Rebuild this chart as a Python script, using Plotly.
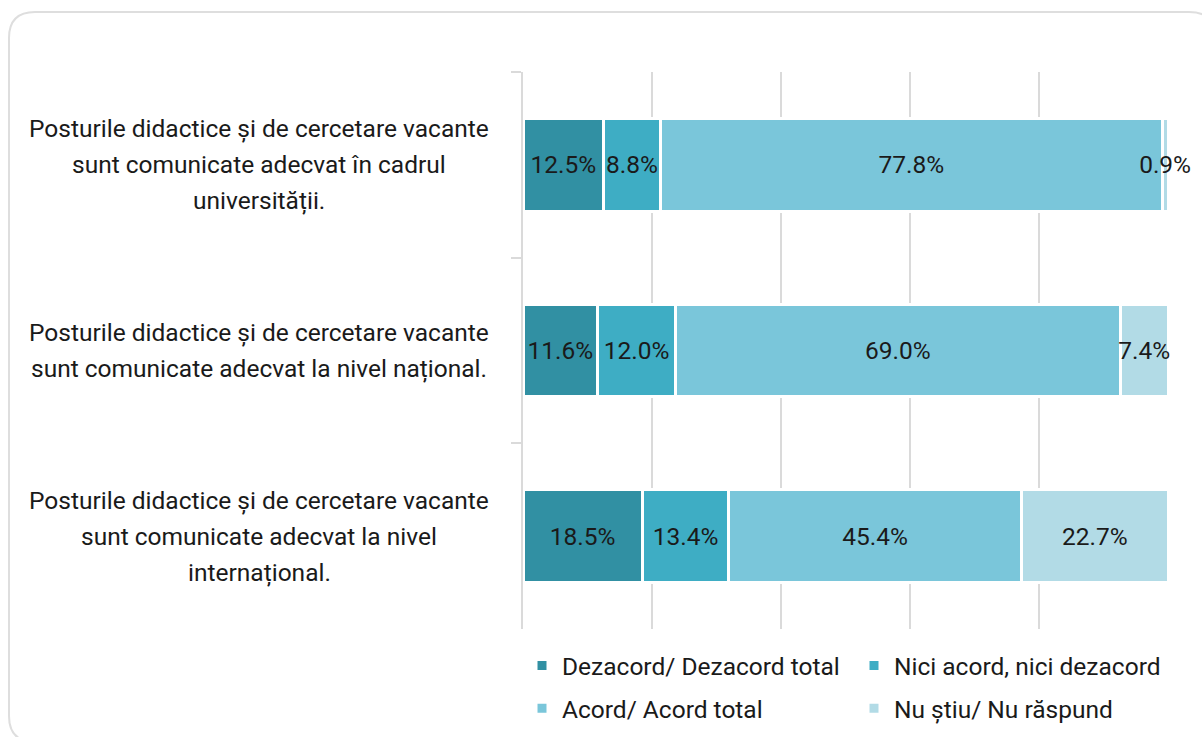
import plotly.graph_objects as go

# survey statements (top to bottom)
categories = [
    "Posturile didactice și de cercetare vacante<br>sunt comunicate adecvat în cadrul<br>universității.",
    "Posturile didactice și de cercetare vacante<br>sunt comunicate adecvat la nivel național.",
    "Posturile didactice și de cercetare vacante<br>sunt comunicate adecvat la nivel<br>internațional.",
]

dezacord = [12.5, 11.6, 18.5]
nici = [8.8, 12.0, 13.4]
acord = [77.8, 69.0, 45.4]
nu_stiu = [0.9, 7.4, 22.7]

series_names = ["Dezacord/ Dezacord total", "Nici acord, nici dezacord",
                "Acord/ Acord total", "Nu știu/ Nu răspund"]
series_values = [dezacord, nici, acord, nu_stiu]
colors = ["#3190a3", "#3eadc4", "#7ac6da", "#b2dbe6"]
legend_ids = ["legend", "legend2", "legend", "legend2"]

W, H = 1202, 737
ML, MR, MT, MB = 523, 34, 72, 108
FONT = "Roboto"
FS = 24.5


def px_x(px):
    return (px - ML) / (W - ML - MR)


def px_y(py):
    return (H - MB - py) / (H - MT - MB)


fig = go.Figure()
for name, vals, col, lg in zip(series_names, series_values, colors, legend_ids):
    fig.add_trace(go.Bar(
        x=vals, y=categories, name=name, orientation="h",
        marker=dict(color=col, line=dict(color="white", width=3)),
        texttemplate="%{x:.1f}%", textposition="inside", textangle=0,
        insidetextanchor="middle", constraintext="none",
        textfont=dict(family=FONT, size=FS, color="#1a1a1a"),
        cliponaxis=False, legend=lg, legendgroup=name,
    ))

# centered category labels, one annotation per line
line_h = 36
for cat in categories:
    lines = cat.split("<br>")
    n = len(lines)
    for i, ln in enumerate(lines):
        fig.add_annotation(
            x=px_x(259), xref="paper", y=cat, yref="y",
            text=ln, showarrow=False, xanchor="center", yanchor="middle",
            yshift=((n - 1) / 2 - i) * line_h,
            font=dict(family=FONT, size=FS, color="#1a1a1a"),
        )

# rounded frame around the chart
l, t, r, b, rad = 9, 12, 1215, 742, 26
path = (f"M {px_x(l)},{px_y(t + rad)} Q {px_x(l)},{px_y(t)} {px_x(l + rad)},{px_y(t)} "
        f"L {px_x(r - rad)},{px_y(t)} Q {px_x(r)},{px_y(t)} {px_x(r)},{px_y(t + rad)} "
        f"L {px_x(r)},{px_y(b - rad)} Q {px_x(r)},{px_y(b)} {px_x(r - rad)},{px_y(b)} "
        f"L {px_x(l + rad)},{px_y(b)} Q {px_x(l)},{px_y(b)} {px_x(l)},{px_y(b - rad)} Z")
fig.add_shape(type="path", path=path, xref="paper", yref="paper",
              line=dict(color="#dedede", width=2), layer="below")

legend_style = dict(orientation="v", yanchor="top", y=px_y(643), xanchor="left",
                    font=dict(family=FONT, size=FS, color="#1a1a1a"),
                    tracegroupgap=8, bgcolor="rgba(0,0,0,0)")

fig.update_layout(
    width=W, height=H,
    margin=dict(l=ML, r=MR, t=MT, b=MB, autoexpand=False),
    barmode="stack", bargap=0.5,
    plot_bgcolor="white", paper_bgcolor="white",
    font=dict(family=FONT, size=FS, color="#1a1a1a"),
    legend=dict(x=px_x(522), **legend_style),
    legend2=dict(x=px_x(854), **legend_style),
    xaxis=dict(range=[0, 100], dtick=20, showgrid=True, gridcolor="#dadada",
               gridwidth=2, showticklabels=False, zeroline=False, fixedrange=True),
    yaxis=dict(autorange="reversed", showticklabels=False, showline=True,
               linecolor="#dadada", linewidth=2, ticks="outside", tickson="boundaries",
               ticklen=10, tickcolor="#dadada", tickwidth=2, showgrid=False),
)

page_fix = ("document.documentElement.style.overflow = 'hidden';"
            "document.body.style.margin = '0';"
            "document.body.style.overflow = 'hidden';")
fig.write_html("out.html", config={"displayModeBar": False}, post_script=page_fix)
